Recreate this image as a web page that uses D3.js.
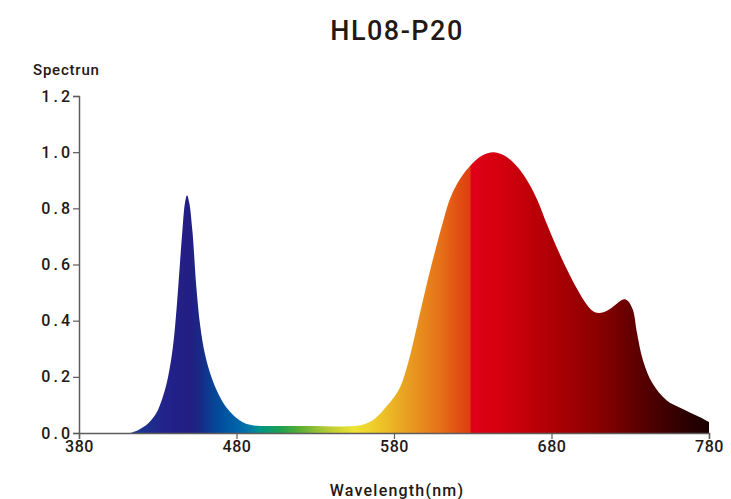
<!DOCTYPE html>
<html>
<head>
<meta charset="utf-8">
<script src="https://cdn.jsdelivr.net/npm/d3@7"></script>
<style>
  body { margin: 0; background: #fff; }
  text { font-family: Roboto, "DejaVu Sans", sans-serif; fill: #231815; }
</style>
</head>
<body>
<script>

// spectrum samples (wavelength nm, relative intensity)
var wavelengths = [380, 410, 412, 418, 424, 429, 433, 436, 439, 441, 443, 445.5, 447.3, 448.6, 450, 452, 454.5, 457, 460, 464, 468, 473, 479, 485, 491, 500,
	525, 555, 562, 568, 573, 579, 584, 589, 595, 603, 611, 616, 622, 629, 636, 643, 650, 658, 665, 671, 677, 683, 690, 696, 701, 705, 709, 713, 718, 722, 726,
	728.5, 731.7, 734.3, 738, 744, 753, 762, 774, 780];
var intensity = [0, 0, 0, 0.012, 0.035, 0.07, 0.125, 0.185, 0.28, 0.38, 0.52, 0.71, 0.82, 0.847, 0.82, 0.72, 0.52, 0.38, 0.28, 0.2, 0.145, 0.095, 0.058, 0.036, 0.027, 0.025,
	0.025, 0.025, 0.033, 0.052, 0.08, 0.12, 0.165, 0.25, 0.39, 0.58, 0.75, 0.84, 0.905, 0.955, 0.988, 1.0, 0.988, 0.95, 0.895, 0.83, 0.745, 0.665, 0.58, 0.515, 0.468, 0.44, 0.428, 0.43, 0.445, 0.463, 0.476,
	0.47, 0.438, 0.356, 0.26, 0.178, 0.117, 0.089, 0.057, 0.039];

// colour of the fill along the wavelength axis
var stopWl = [412, 425, 435, 450, 457, 463, 473, 482, 489, 495, 508, 520, 533, 546, 555, 571, 590, 609, 623, 628.3, 628.9, 647, 679, 711, 736, 762, 780];
var stopColor = ["#1b3a95", "#1f2e8c", "#22228a", "#231e84", "#1a2884", "#0a3d92", "#0055a0", "#0066aa", "#007aa5", "#009585", "#1da050", "#5aad35",
	"#a0c435", "#d5d632", "#eee334", "#edc528", "#e89b20", "#e67218", "#e04a12", "#e03e12", "#e00018", "#d5000f", "#b00005", "#880000", "#5a0000", "#300000", "#180000"];

var xTicks = [380, 480, 580, 680, 780];
var yTicks = [0, 0.2, 0.4, 0.6, 0.8, 1.0, 1.2];

var width = 731,
	height = 499;

var svg = d3.select("body").append("svg")
	.attr("width", width)
	.attr("height", height);

var x = d3.scaleLinear().domain([380, 780]).range([79, 709]);
var y = d3.scaleLinear().domain([0, 1.2]).range([433, 96]);

var grad = svg.append("defs").append("linearGradient")
	.attr("id", "spec")
	.attr("gradientUnits", "userSpaceOnUse")
	.attr("x1", x(380)).attr("x2", x(780))
	.attr("y1", 0).attr("y2", 0);

grad.selectAll("stop")
	.data(stopWl)
	.enter().append("stop")
	.attr("offset", function(d) { return (d - 380) / 400; })
	.attr("stop-color", function(d, i) { return stopColor[i]; });

var area = d3.area()
	.x(function(d) { return x(d[0]); })
	.y0(y(0))
	.y1(function(d) { return y(d[1]); })
	.curve(d3.curveCatmullRom.alpha(0.5));

svg.append("path")
	.datum(wavelengths.map(function(w, i) { return [w, intensity[i]]; }))
	.attr("fill", "url(#spec)")
	.attr("d", area);

// axes
var xAxis = svg.append("g")
	.attr("transform", "translate(0," + y(0) + ")")
	.call(d3.axisBottom(x).tickValues(xTicks).tickSize(6).tickPadding(2).tickFormat(d3.format("d")));

var yAxis = svg.append("g")
	.attr("transform", "translate(" + x(380) + ",0)")
	.call(d3.axisLeft(y).tickValues(yTicks).tickSize(6).tickPadding(3).tickFormat(d3.format(".1f")));

[xAxis, yAxis].forEach(function(g) {
	g.select(".domain").attr("stroke", "#605c5b").attr("stroke-width", 1.5);
	g.selectAll(".tick line").attr("stroke", "#605c5b").attr("stroke-width", 1.2);
	g.selectAll(".tick text")
		.attr("font-family", "Roboto, sans-serif")
		.attr("font-size", 16)
		.attr("font-weight", 500)
		.attr("fill", "#231815");
});
yAxis.selectAll(".tick text").style("letter-spacing", "3px").attr("dx", "3px");
xAxis.selectAll(".tick text").style("letter-spacing", "0.5px");

svg.append("text")
	.attr("x", 397)
	.attr("y", 40)
	.attr("text-anchor", "middle")
	.attr("font-size", 27)
	.attr("font-weight", 500)
	.style("letter-spacing", "1.5px")
	.text("HL08-P20");

svg.append("text")
	.attr("x", 33)
	.attr("y", 75)
	.attr("font-size", 15)
	.attr("font-weight", 500)
	.style("letter-spacing", "0.8px")
	.text("Spectrun");

svg.append("text")
	.attr("x", 397)
	.attr("y", 496)
	.attr("text-anchor", "middle")
	.attr("font-size", 16)
	.attr("font-weight", 500)
	.style("letter-spacing", "1.2px")
	.text("Wavelength(nm)");

</script>
</body>
</html>
